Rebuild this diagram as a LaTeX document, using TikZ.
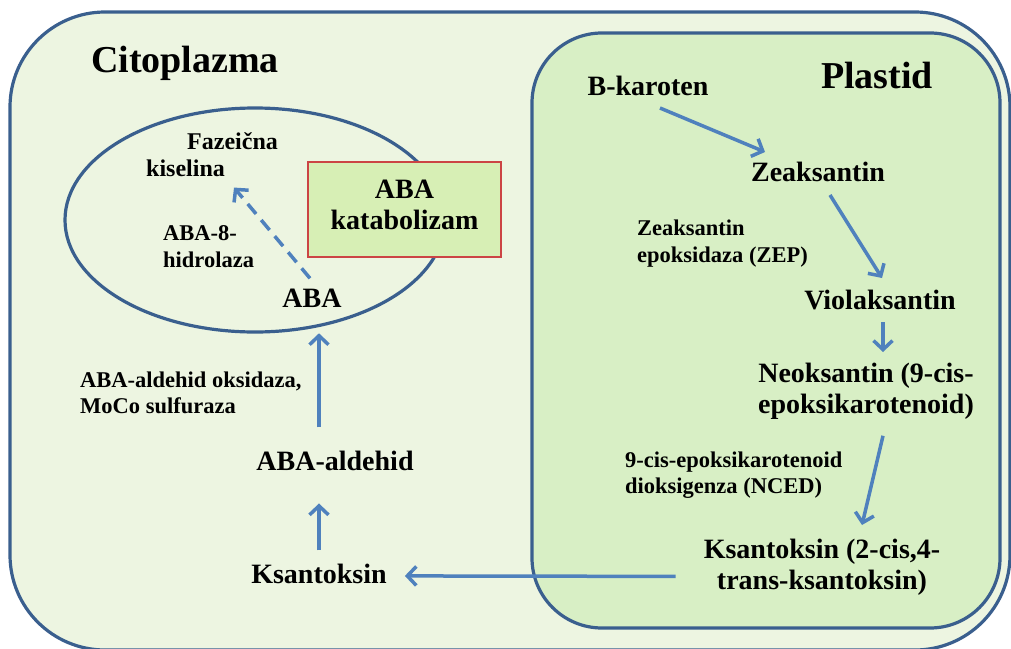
\documentclass[tikz,border=0pt]{standalone}
\usepackage{fontspec}
\setmainfont{Liberation Serif}
\usetikzlibrary{arrows.meta}
\definecolor{cytofill}{HTML}{EDF5E1}
\definecolor{plastfill}{HTML}{D8EFC5}
\definecolor{membrane}{HTML}{3A5F8E}
\definecolor{arrowblue}{HTML}{4F81BD}
\definecolor{boxfill}{HTML}{D7EFB5}
\definecolor{boxred}{HTML}{CC4444}
\begin{document}
\begin{tikzpicture}[x=1pt,y=-1pt,
  big/.style={font=\fontsize{28}{31}\selectfont\bfseries, inner sep=0pt, align=center},
  small/.style={font=\fontsize{22.5}{26.5}\selectfont\bfseries, inner sep=0pt, align=left},
  title/.style={font=\fontsize{38}{42}\selectfont\bfseries, inner sep=0pt},
  arr/.style={draw=arrowblue, line width=3.5pt, -{Straight Barb[length=9pt,width=19pt]}},
  membr/.style={draw=membrane, line width=3.2pt}]
\useasboundingbox (0,0) rectangle (1011,648);
% compartments
\draw[membr, fill=cytofill, rounded corners=95pt] (10,12) rectangle (1010,650);
\draw[membr, fill=plastfill, rounded corners=70pt] (532,33) rectangle (1000,628);
\draw[membr, fill=cytofill] (255,220) ellipse [x radius=190pt, y radius=112pt];
\node[draw=boxred, line width=1.5pt, fill=boxfill, minimum width=193pt, minimum height=95pt,
      big, text depth=9pt] (katab) at (404.5,209.5) {ABA\\katabolizam};
% titles
\node[title, anchor=base] (cito) at (185,72) {Citoplazma};
\node[title, anchor=base] (plastid) at (877,88) {Plastid};
% plastid pathway
\node[big, anchor=base] (bkar) at (648,95) {B-karoten};
\node[big, anchor=base] (zea) at (818,181) {Zeaksantin};
\node[small, anchor=north west] (zep) at (637,220) {Zeaksantin\\epoksidaza (ZEP)};
\node[big, anchor=base] (vio) at (880,309) {Violaksantin};
\node[big, anchor=north] (neo) at (866,363) {Neoksantin (9-cis-\\epoksikarotenoid)};
\node[small, anchor=north west] (nced) at (625,451.5) {9-cis-epoksikarotenoid\\dioksigenza (NCED)};
\node[big, anchor=north] (ks2) at (822,539) {Ksantoksin (2-cis,4-\\trans-ksantoksin)};
% cytoplasm pathway
\node[big, anchor=base] (ksl) at (319,583) {Ksantoksin};
\node[big, anchor=base] (abaald) at (335,470) {ABA-aldehid};
\node[small, anchor=north west] (oks) at (80,371.5) {ABA-aldehid oksidaza,\\MoCo sulfuraza};
\node[big, anchor=base] (aba) at (312,307) {ABA};
\node[small, anchor=north west] (aba8) at (163,225.5) {ABA-8-\\hidrolaza};
\node[small, font=\fontsize{24}{27}\selectfont\bfseries, anchor=north west] (faz) at (146,132) {\hspace*{41pt}Fazeična\\kiselina};
% arrows
\draw[arr] ([xshift=12pt,yshift=-13pt]bkar.base) -- ([xshift=-53pt,yshift=29pt]zea.base);
\draw[arr] ([xshift=12pt,yshift=-14pt]zea.base) -- ([xshift=2pt,yshift=31pt]vio.base);
\draw[arr] ([xshift=3pt,yshift=-13pt]vio.base) -- ([xshift=17pt,yshift=11pt]neo.north);
\draw[arr] ([xshift=17pt,yshift=-16pt]neo.south) -- ([xshift=40pt,yshift=14pt]ks2.north);
\draw[arr] ([xshift=-28pt,yshift=-9pt]ks2.west) -- ([xshift=18pt,yshift=-2.5pt]ksl.east);
\draw[arr] ([yshift=13pt]ksl.north) -- ([xshift=-16pt,yshift=-33pt]abaald.south);
\draw[arr] ([xshift=-16pt,yshift=23pt]abaald.north) -- ([xshift=7pt,yshift=-26pt]aba.south);
\draw[arr, dash pattern=on 13pt off 8pt] ([xshift=-2pt,yshift=10pt]aba.north) -- ([xshift=22pt,yshift=-11pt]faz.south);
\end{tikzpicture}
\end{document}
